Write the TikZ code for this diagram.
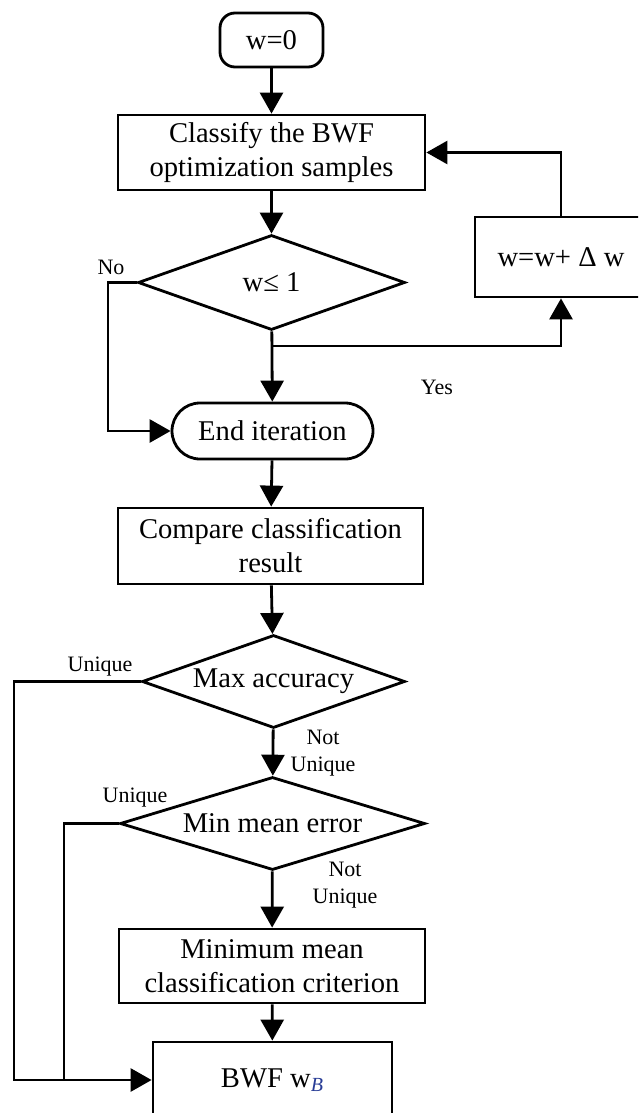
\documentclass[tikz,border=0pt]{standalone}
\usepackage{fontspec}
\setmainfont{Liberation Serif}
\usepackage{xcolor}
\usetikzlibrary{arrows.meta}
\usetikzlibrary{shapes.geometric}
\definecolor{subblue}{RGB}{40, 60, 150}

\tikzset{
  box/.style={draw, line width=1.4, rectangle, inner sep=0, align=center,
    font=\fontsize{14.3}{17}\selectfont},
  roundbox/.style={box, rounded corners=#1},
  decision/.style={draw, line width=1.4, diamond, inner sep=0, aspect=2.8,
    font=\fontsize{14.3}{17}\selectfont},
  flow/.style={line width=1.4, -{Triangle[length=10.5pt,width=11.5pt]}},
  link/.style={line width=1.4},
  tag/.style={inner sep=0, align=center, font=\fontsize{11}{13.5}\selectfont},
}

\begin{document}
\begin{tikzpicture}[x=0.5pt, y=-0.5pt]
\clip (0,0) rectangle (638,1113);

\node[roundbox=7.5pt, minimum width=51.5pt, minimum height=27pt] (start) at (271.5,40) {w=0};
\node[box, minimum width=153.5pt, minimum height=37.5pt] (classify) at (271.5,152.5) {Classify the BWF\\optimization samples};
\node[decision, minimum width=133.5pt, minimum height=47.5pt] (dec1) at (271.5,282.5) {w≤ 1};
\node[box, minimum width=86pt, minimum height=40pt] (update) at (561,257) {w=w+ Δ w};
\node[roundbox=14pt, minimum width=100.5pt, minimum height=28pt] (end) at (272.5,431) {End iteration};
\node[box, minimum width=152.5pt, minimum height=38pt] (compare) at (270.5,546) {Compare classification\\result};
\node[decision, minimum width=131.5pt, minimum height=46.5pt] (dec2) at (273.5,681.5) {Max accuracy};
\node[decision, minimum width=152.5pt, minimum height=46.5pt] (dec3) at (272.5,823.5) {Min mean error};
\node[box, minimum width=153pt, minimum height=37pt] (minbox) at (272,966) {Minimum mean\\classification criterion};
\node[box, minimum width=119.5pt, minimum height=38pt] (bwf) at (272.5,1080) {BWF w\textsubscript{\textcolor{subblue}{\textit{B}}}};

\coordinate (yesjoin) at (272.5,346);
\coordinate (nocorner) at (108,282.5);
\coordinate (uniqA) at (14,681.5);
\coordinate (uniqB) at (64,823.5);

% main path
\draw[flow] (start) -- (classify);
\draw[flow] (classify) -- (dec1);
\draw[flow] (dec1) -- (end);
\draw[flow] (end) -- (compare);
\draw[flow] (compare) -- (dec2);
\draw[flow] (dec2) -- (dec3);
\draw[flow] (dec3) -- (minbox);
\draw[flow] (minbox) -- (bwf);

% loop
\draw[flow] (yesjoin) -| (update.south);
\draw[flow] (update.north) |- (classify.east);
\draw[flow] (dec1.west) -- (nocorner) |- (end.west);

% unique branches
\draw[flow] (dec2.west) -- (uniqA) |- (bwf.west);
\draw[link] (dec3.west) -- (uniqB) -- (uniqB |- bwf.west);

\node[tag] (lno) at (111,267) {No};
\node[tag] (lyes) at (437,387) {Yes};
\node[tag] (luA) at (100,667) {Unique};
\node[tag] (lnuA) at (323,753) {Not\\Unique};
\node[tag] (luB) at (135,798) {Unique};
\node[tag] (lnuB) at (345,885) {Not\\Unique};

\end{tikzpicture}
\end{document}
